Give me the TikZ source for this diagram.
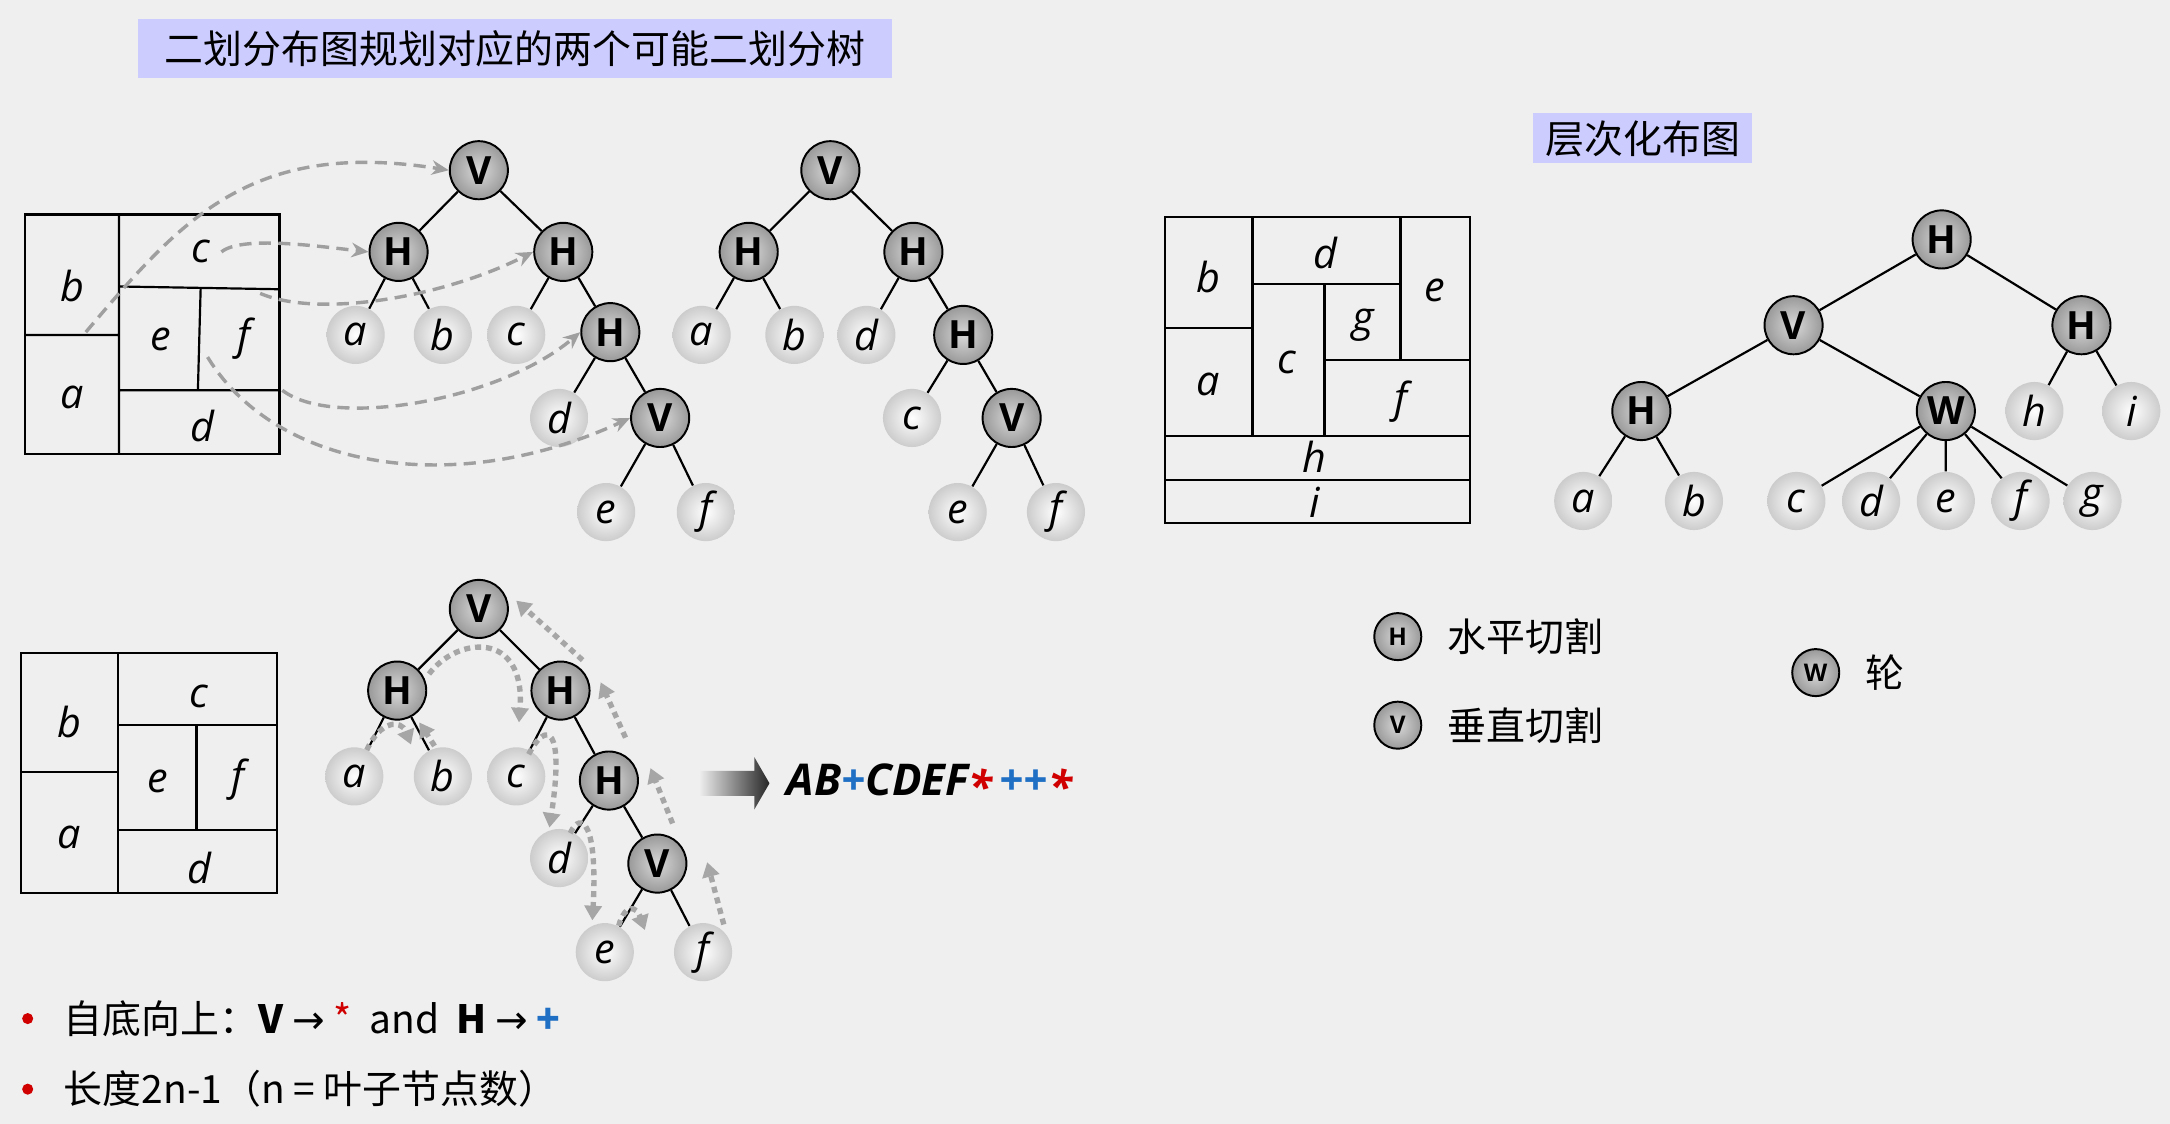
\documentclass[tikz,border=0pt]{standalone}
\usepackage{fontspec}
\setmainfont{Open Sans}
\newfontfamily\cjk{Noto Sans CJK SC}
\newfontfamily\djv{DejaVu Sans}
\usetikzlibrary{arrows.meta,shadings}
\definecolor{bgc}{HTML}{EFEFEF}
\definecolor{lav}{HTML}{CCCCFF}
\definecolor{myblue}{HTML}{1F6FC5}
\definecolor{myred}{HTML}{D00000}
\tikzset{
 inode/.style={circle,draw=black,line width=0.8pt,inner color=gray!30,outer color=gray!80,minimum size=42*0.02cm,inner sep=0pt,font=\fontsize{16}{16}\selectfont\bfseries},
 leaf/.style={circle,inner color=white,outer color=gray!40,minimum size=42*0.02cm,inner sep=0pt,font=\fontsize{17}{17}\selectfont\itshape},
 lnode/.style={circle,draw=black,line width=0.8pt,inner color=gray!30,outer color=gray!80,minimum size=34*0.02cm,inner sep=0pt,font=\fontsize{10}{10}\selectfont\bfseries},
 edge/.style={line width=0.9pt,black},
 fp/.style={line width=0.9pt,black},
 cl/.style={font=\fontsize{17}{17}\selectfont\itshape},
 dash1/.style={gray!75,dash pattern=on 5pt off 3pt,line width=1.4pt,-{Stealth[length=7pt,width=6pt]}},
 dot1/.style={gray!70,line width=2.2pt,dash pattern=on 2.5pt off 2pt,-{Triangle[length=6pt,width=7pt]}},
 lab/.style={font=\cjk\fontsize{16}{16}\selectfont,anchor=west},
}
\begin{document}
\begin{tikzpicture}[x=0.02cm,y=-0.02cm]
\fill[bgc] (0,0) rectangle (1568,812);
\useasboundingbox (0,0) rectangle (1568,812);
% titles
\node[fill=lav,minimum width=545*0.02cm,minimum height=42*0.02cm,inner sep=0pt,font=\cjk\fontsize{16}{16}\selectfont] (t1) at (372,35) {二划分布图规划对应的两个可能二划分树};
\node[fill=lav,minimum width=158*0.02cm,minimum height=36*0.02cm,inner sep=0pt,font=\cjk\fontsize{16}{16}\selectfont] (t2) at (1187,100) {层次化布图};
% floorplan 1
\draw[fp] (18,155) rectangle (202,328);
\draw[fp] (86,155) -- (86,328) (18,242) -- (86,242) (86,207) -- (202,209) (86,282) -- (202,282) (145,208) -- (143,282);
\node[cl] (fb) at (52,207) {b}; \node[cl] (fa) at (52,287) {a};
\node[cl] (fc) at (145,182) {c}; \node[cl] (fe) at (116,245) {e};
\node[cl] (ff) at (176,245) {f}; \node[cl] (fd) at (146,308) {d};
% tree 1
\node[inode] (A1) at (346,123) {V};
\node[inode] (A2) at (288,182) {H};
\node[inode] (A3) at (407,182) {H};
\node[leaf] (Aa) at (257,242) {a};
\node[leaf] (Ab) at (320,242) {b};
\node[leaf] (Ac) at (373,242) {c};
\node[inode] (A4) at (441,240) {H};
\node[leaf] (Ad) at (404,302) {d};
\node[inode] (A5) at (477,302) {V};
\node[leaf] (Ae) at (438,370) {e};
\node[leaf] (Af) at (510,370) {f};
\draw[edge] (A1)--(A2) (A1)--(A3) (A2)--(Aa) (A2)--(Ab) (A3)--(Ac) (A3)--(A4) (A4)--(Ad) (A4)--(A5) (A5)--(Ae) (A5)--(Af);
% dashed mapping arrows
\coordinate (s1) at (62,240); \coordinate (s2) at (160,182); \coordinate (s3) at (188,212);
\coordinate (s4) at (204,282); \coordinate (s5) at (150,258);
\draw[dash1] (s1) .. controls (130,160) and (180,100) .. (A1.west);
\draw[dash1] (s2) .. controls (175,170) and (230,178) .. (A2.west);
\draw[dash1] (s3) .. controls (230,230) and (320,215) .. (A3.west);
\draw[dash1] (s4) .. controls (240,310) and (360,290) .. (A4.west);
\draw[dash1] (s5) .. controls (200,340) and (330,360) .. (A5.west);
% tree 2
\node[inode] (B1) at (600,123) {V};
\node[inode] (B2) at (541,182) {H};
\node[inode] (B3) at (660,182) {H};
\node[leaf] (Ba) at (507,242) {a};
\node[leaf] (Bb) at (574,242) {b};
\node[leaf] (Bd) at (626,242) {d};
\node[inode] (B4) at (696,242) {H};
\node[leaf] (Bc) at (659,302) {c};
\node[inode] (B5) at (731,302) {V};
\node[leaf] (Be) at (692,370) {e};
\node[leaf] (Bf) at (763,370) {f};
\draw[edge] (B1)--(B2) (B1)--(B3) (B2)--(Ba) (B2)--(Bb) (B3)--(Bd) (B3)--(B4) (B4)--(Bc) (B4)--(B5) (B5)--(Be) (B5)--(Bf);
% floorplan 2
\draw[fp] (842,157) rectangle (1062,378);
\draw[fp] (842,315) -- (1062,315) (842,347) -- (1062,347) (905,157) -- (905,315) (842,237) -- (905,237)
 (905,205) -- (1012,205) (1012,157) -- (1012,260) (957,205) -- (957,315) (957,260) -- (1062,260);
\node[cl] (gb) at (873,200) {b}; \node[cl] (ga) at (873,278) {a};
\node[cl] (gc) at (930,262) {c}; \node[cl] (gd) at (958,183) {d};
\node[cl] (ge) at (1037,210) {e}; \node[cl] (gg) at (985,235) {g};
\node[cl] (gf) at (1012,290) {f}; \node[cl] (gh) at (950,330) {h};
\node[cl] (gi) at (950,363) {i};
% tree 3
\node[inode] (C1) at (1403,173) {H};
\node[inode] (C2) at (1296,235) {V};
\node[inode] (C3) at (1504,235) {H};
\node[inode] (C4) at (1186,297) {H};
\node[inode] (C5) at (1406,297) {W};
\node[leaf] (Ch) at (1470,297) {h};
\node[leaf] (Ci) at (1540,297) {i};
\node[leaf] (Ca) at (1144,362) {a};
\node[leaf] (Cb) at (1224,362) {b};
\node[leaf] (Cc) at (1298,362) {c};
\node[leaf] (Cd) at (1352,362) {d};
\node[leaf] (Ce) at (1406,362) {e};
\node[leaf] (Cf) at (1460,362) {f};
\node[leaf] (Cg) at (1512,362) {g};
\draw[edge] (C1)--(C2) (C1)--(C3) (C3)--(Ch) (C3)--(Ci) (C2)--(C4) (C2)--(C5) (C4)--(Ca) (C4)--(Cb)
 (C5)--(Cc) (C5)--(Cd) (C5)--(Ce) (C5)--(Cf) (C5)--(Cg);
% legend
\node[lnode] (LH) at (1010,460) {H}; \node[lab] (LHt) at (1040,460) {水平切割};
\node[lnode] (LV) at (1010,524) {V}; \node[lab] (LVt) at (1040,524) {垂直切割};
\node[lnode] (LW) at (1312,486) {W}; \node[lab] (LWt) at (1342,486) {轮};
% floorplan 3
\draw[fp] (15,472) rectangle (200,645);
\draw[fp] (85,472) -- (85,645) (15,558) -- (85,558) (85,524) -- (200,524) (85,600) -- (200,600) (142,524) -- (142,600);
\node[cl] (hb) at (50,522) {b}; \node[cl] (ha) at (50,605) {a};
\node[cl] (hc) at (144,503) {c}; \node[cl] (he) at (114,565) {e};
\node[cl] (hf) at (172,563) {f}; \node[cl] (hd) at (144,627) {d};
% tree 4
\node[inode] (D1) at (346,440) {V};
\node[inode] (D2) at (287,499) {H};
\node[inode] (D3) at (405,499) {H};
\node[leaf] (Da) at (256,561) {a};
\node[leaf] (Db) at (320,561) {b};
\node[leaf] (Dc) at (373,561) {c};
\node[inode] (D4) at (440,564) {H};
\node[leaf] (Dd) at (404,620) {d};
\node[inode] (D5) at (475,624) {V};
\node[leaf] (De) at (437,688) {e};
\node[leaf] (Df) at (508,688) {f};
\draw[edge] (D1)--(D2) (D1)--(D3) (D2)--(Da) (D2)--(Db) (D3)--(Dc) (D3)--(D4) (D4)--(Dd) (D4)--(D5) (D5)--(De) (D5)--(Df);
% traversal dotted arrows
\draw[dot1] (265,542) .. controls (275,520) and (290,520) .. (297,538);
\draw[dot1] (314,539) -- (303,522);
\draw[dot1] (310,487) .. controls (330,460) and (380,455) .. (375,522);
\draw[dot1] (382,545) .. controls (395,520) and (408,525) .. (397,598);
\draw[dot1] (412,602) .. controls (420,585) and (432,595) .. (428,665);
\draw[dot1] (447,669) .. controls (452,652) and (460,655) .. (466,672);
\draw[dot1] (523,668) -- (511,623);
\draw[dot1] (486,595) -- (470,555);
\draw[dot1] (452,533) -- (434,493);
\draw[dot1] (421,477) -- (373,434);
% result arrow
\shade[left color=bgc,right color=black!85] (505,557) -- (545,557) -- (545,547) -- (556,566) -- (545,585) -- (545,575) -- (505,575) -- cycle;
\node[anchor=west,font=\fontsize{18}{18}\selectfont\bfseries\itshape,inner sep=0pt] (res) at (568,566)
 {AB\textcolor{myblue}{+}CDEF\raisebox{-3pt}{\textcolor{myred}{*}}\,\textcolor{myblue}{++}\raisebox{-3pt}{\textcolor{myred}{*}}};
% bullets
\fill[myred] (20,736) circle (4);
\fill[myred] (20,787) circle (4);
\node[lab] (bl1) at (40,736) {自底向上：\textbf{V} {\djv→} \textcolor{myred}{*}\ \ and\ \ \textbf{H} {\djv→} \textcolor{myblue}{\textbf{+}}};
\node[lab] (bl2) at (40,787) {长度2n-1（n = 叶子节点数）};
\end{tikzpicture}
\end{document}
